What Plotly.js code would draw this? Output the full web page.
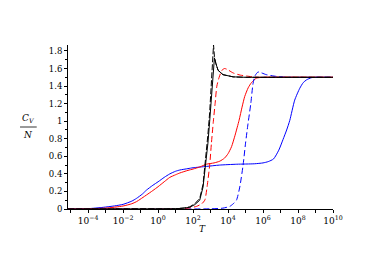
<!DOCTYPE html>
<html><head><meta charset="utf-8">
<script src="https://cdn.plot.ly/plotly-3.0.1.min.js"></script>
<style>html,body{margin:0;padding:0;background:#fff}</style>
</head><body>
<div id="chart" style="width:374px;height:271px"></div>
<script>
// log10(T) and Cv/N
const blueSolidLogT = [-5.15,-4,-3.14,-2.5,-2,-1.5,-1.24,-0.9,-0.66,-0.3,0,0.35,0.67,1.0,1.24,1.71,2.0,2.76,3.5,4.5,5.5,6.0,6.3,6.6,6.9,7.14,7.35,7.53,7.81,8.1,8.3,8.48,8.75,8.95,10];
const blueSolidCv   = [0.001,0.004,0.019,0.035,0.053,0.09,0.12,0.17,0.216,0.27,0.31,0.36,0.40,0.43,0.444,0.46,0.47,0.485,0.50,0.51,0.515,0.525,0.54,0.57,0.67,0.79,0.9,1.01,1.24,1.375,1.44,1.47,1.495,1.5,1.5];

const redSolidLogT = [-5.15,-4,-3,-2,-1.5,-1.24,-0.66,-0.3,0,0.35,0.67,1.0,1.24,1.71,2.0,2.4,2.76,3.2,3.53,3.8,4.0,4.2,4.4,4.63,4.8,4.95,5.15,5.34,5.62,6.0,10];
const redSolidCv   = [0.0005,0.003,0.01,0.034,0.06,0.083,0.16,0.21,0.254,0.31,0.36,0.39,0.41,0.44,0.455,0.48,0.51,0.525,0.545,0.58,0.63,0.71,0.84,1.01,1.16,1.28,1.38,1.44,1.49,1.5,1.5];

const blackSolidLogT = [-5.15,0.5,1.0,1.5,1.81,2.1,2.38,2.57,2.73,2.85,2.95,3.05,3.15,3.22,3.3,3.43,3.71,4.29,5,10];
const blackSolidCv   = [0,0,0.003,0.01,0.02,0.05,0.1,0.25,0.5,0.75,1.0,1.3,1.6,1.72,1.66,1.58,1.53,1.505,1.5,1.5];

const blackDashLogT = [-5.15,1.0,1.5,1.81,2.1,2.38,2.57,2.72,2.85,2.95,3.05,3.12,3.17,3.22,3.3,3.43,3.71,4.29,5,10];
const blackDashCv   = [0,0.003,0.012,0.025,0.06,0.12,0.28,0.55,0.85,1.1,1.45,1.72,1.87,1.74,1.66,1.58,1.53,1.505,1.5,1.5];

const redDashLogT = [-5.15,1.0,1.71,2.2,2.5,2.67,2.80,2.95,3.05,3.16,3.26,3.36,3.49,3.65,3.8,3.95,4.29,4.7,5.05,5.5,6,10];
const redDashCv   = [0,0.001,0.01,0.03,0.06,0.1,0.25,0.5,0.75,1.0,1.2,1.4,1.5,1.58,1.60,1.59,1.55,1.525,1.515,1.503,1.5,1.5];

const blueDashLogT = [-5.15,3.0,3.71,4.1,4.3,4.48,4.67,4.86,5.0,5.14,5.3,5.43,5.55,5.71,5.85,6.19,6.77,7.2,7.5,10];
const blueDashCv   = [0,0.002,0.01,0.03,0.06,0.1,0.25,0.5,0.75,0.97,1.2,1.43,1.52,1.56,1.555,1.53,1.51,1.502,1.5,1.5];

const xLabelExp = [-4,-2,0,2,4,6,8,10];
const xMinorExp = [-5,-3,-1,1,3,5,7,9];
const yTicks = [0,0.2,0.4,0.6,0.8,1,1.2,1.4,1.6,1.8];

const toT = a => a.map(v => Math.pow(10, v));
function tr(lx, y, color, dash, shape) {
  return {x: toT(lx), y: y, type: 'scatter', mode: 'lines',
    line: {color: color, width: 1, dash: dash || 'solid', shape: shape || 'spline', smoothing: 0.6},
    hoverinfo: 'skip', showlegend: false};
}
const traces = [
  tr(blueSolidLogT, blueSolidCv, '#0000ff'),
  tr(redSolidLogT, redSolidCv, '#ff0000'),
  tr(blueDashLogT, blueDashCv, '#0000ff', '6px,3px'),
  tr(redDashLogT, redDashCv, '#ff0000', '6px,3px'),
  tr(blackDashLogT, blackDashCv, '#000000', '6px,2px', 'linear'),
  tr(blackSolidLogT, blackSolidCv, '#000000', 'solid', 'linear')
];

const tickText = xLabelExp.map(e => '10<sup>' + (e < 0 ? '\u2212' + (-e) : e) + '</sup>');
const serif = '"DejaVu Serif", serif';

const layout = {
  width: 374, height: 271,
  margin: {l: 68, r: 41, t: 45, b: 62},
  paper_bgcolor: '#fff', plot_bgcolor: '#fff',
  font: {family: serif, size: 9, color: '#000'},
  xaxis: {
    type: 'log', range: [-5.15, 10],
    tickmode: 'array', tickvals: toT(xLabelExp), ticktext: tickText,
    ticks: 'outside', ticklen: 3, tickwidth: 1, tickcolor: '#000',
    minor: {tickmode: 'array', tickvals: toT(xMinorExp), ticks: 'outside', ticklen: 3, tickcolor: '#000', showgrid: false},
    showgrid: false, zeroline: false,
    showline: true, linecolor: '#000', linewidth: 1,
    tickfont: {family: serif, size: 9}
  },
  yaxis: {
    range: [0, 1.868],
    tickmode: 'array', tickvals: yTicks,
    ticks: 'outside', ticklen: 3, tickwidth: 1, tickcolor: '#000',
    minor: {dtick: 0.1, ticks: 'outside', ticklen: 2, tickcolor: '#000', showgrid: false},
    showgrid: false, zeroline: false,
    showline: true, linecolor: '#000', linewidth: 1,
    tickfont: {family: serif, size: 8.5}
  },
  annotations: [
    {xref: 'paper', yref: 'paper', x: 0.506, y: -0.12, text: '<i>T</i>', showarrow: false,
     xanchor: 'center', yanchor: 'middle', font: {family: serif, size: 9}},
    {xref: 'paper', yref: 'paper', x: -0.15, y: 0.505, text: '<i>C</i><sub><i>V</i></sub>', showarrow: false,
     xanchor: 'center', yanchor: 'bottom', font: {family: serif, size: 9}},
    {xref: 'paper', yref: 'paper', x: -0.15, y: 0.495, text: '<i>N</i>', showarrow: false,
     xanchor: 'center', yanchor: 'top', font: {family: serif, size: 9}}
  ],
  shapes: [
    {type: 'line', xref: 'paper', yref: 'paper', x0: -0.181, x1: -0.118, y0: 0.5, y1: 0.5,
     line: {color: '#000', width: 0.8}}
  ]
};

Plotly.newPlot('chart', traces, layout, {staticPlot: true, displayModeBar: false});
</script>
</body></html>
